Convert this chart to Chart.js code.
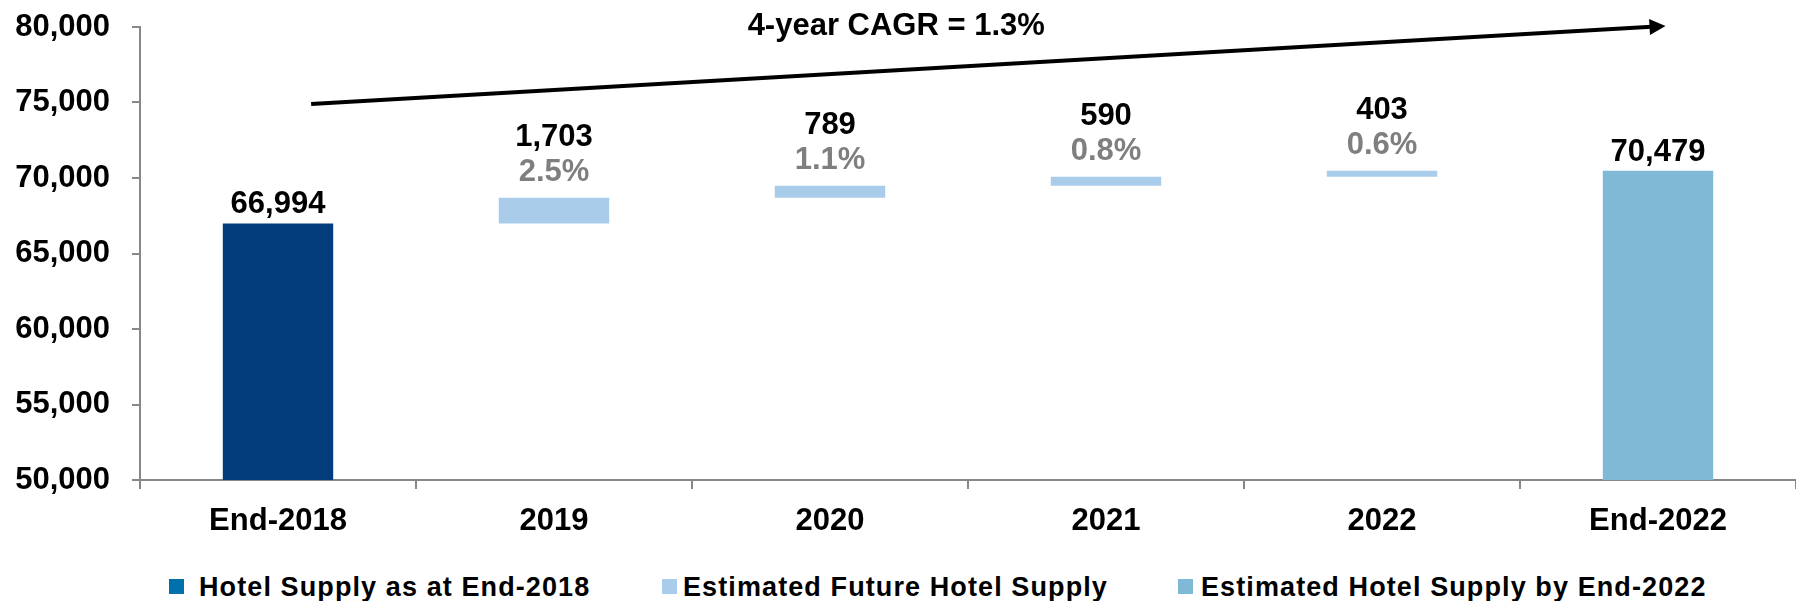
<!DOCTYPE html>
<html>
<head>
<meta charset="utf-8">
<script src="https://cdn.jsdelivr.net/npm/chart.js@4/dist/chart.umd.min.js"></script>
<style>
  body { margin: 0; background: #fff; font-family: "Liberation Sans", Arial, sans-serif; }
  #wrap { position: relative; width: 1796px; height: 601px; }
  #box { position: absolute; left: 0; top: 0; width: 1796px; height: 545px; }
  .leg { position: absolute; top: 572px; font-weight: bold; font-size: 27px; letter-spacing: 1.1px; color: #000; white-space: nowrap; line-height: 30px; }
  .leg span { position: absolute; top: 7px; width: 15px; height: 15px; }
</style>
</head>
<body>
<div id="wrap">
  <div id="box"><canvas id="grafico"></canvas></div>
  <div id="leyenda"></div>
</div>
<script>
// datos
const categorias = ["End-2018", "2019", "2020", "2021", "2022", "End-2022"];
const ofertaInicial = [66994, null, null, null, null, null];
const ofertaNueva = [null, 1703, 789, 590, 403, null];
const crecimiento = [null, "2.5%", "1.1%", "0.8%", "0.6%", null];
const ofertaFinal = [null, null, null, null, null, 70479];
const series = ["Hotel Supply as at End-2018", "Estimated Future Hotel Supply", "Estimated Hotel Supply by End-2022"];
const textoCagr = "4-year CAGR = 1.3%";

const colores = ["#023C7A", "#A9CCEB", "#80B9D6"];
const coloresLeyenda = ["#0070AC", "#A9CCEB", "#80B9D6"];

// barras flotantes acumuladas para la cascada
let acumulado = ofertaInicial[0];
const rangos = ofertaNueva.map(v => {
    if (v === null) return null;
    const r = [acumulado, acumulado + v];
    acumulado += v;
    return r;
});

const fmt = v => v.toLocaleString("en-US");
const fuente = { family: "'Liberation Sans', Arial, sans-serif", size: 31, weight: "bold" };

// etiquetas y flecha CAGR
const etiquetas = {
    id: "etiquetas",
    afterDatasetsDraw(chart) {
        const ctx = chart.ctx;
        ctx.save();
        ctx.font = "bold 31px 'Liberation Sans', Arial, sans-serif";
        ctx.textAlign = "center";
        ctx.textBaseline = "alphabetic";
        chart.data.datasets.forEach((ds, i) => {
            chart.getDatasetMeta(i).data.forEach((bar, j) => {
                const v = ds.data[j];
                if (v === null || v === undefined) return;
                const top = Math.min(bar.y, bar.base);
                if (i === 1) {
                    ctx.fillStyle = "#000";
                    ctx.fillText(fmt(ofertaNueva[j]), bar.x, top - 52);
                    ctx.fillStyle = "#7F7F7F";
                    ctx.fillText(crecimiento[j], bar.x, top - 17);
                } else {
                    ctx.fillStyle = "#000";
                    ctx.fillText(fmt(v), bar.x, top - 10);
                }
            });
        });

        const xs = chart.scales.x, ys = chart.scales.y;
        const x1 = xs.getPixelForValue(0.12), y1 = ys.getPixelForValue(74900);
        const x2 = xs.getPixelForValue(5.02), y2 = ys.getPixelForValue(80060);
        const ang = Math.atan2(y2 - y1, x2 - x1);
        ctx.strokeStyle = "#000";
        ctx.lineWidth = 4;
        ctx.beginPath();
        ctx.moveTo(x1, y1);
        ctx.lineTo(x2 - 12 * Math.cos(ang), y2 - 12 * Math.sin(ang));
        ctx.stroke();
        ctx.translate(x2, y2);
        ctx.rotate(ang);
        ctx.fillStyle = "#000";
        ctx.beginPath();
        ctx.moveTo(2, 0);
        ctx.lineTo(-14, -8);
        ctx.lineTo(-14, 8);
        ctx.closePath();
        ctx.fill();
        ctx.setTransform(1, 0, 0, 1, 0, 0);

        ctx.font = "bold 31px 'Liberation Sans', Arial, sans-serif";
        ctx.fillStyle = "#000";
        ctx.fillText(textoCagr, xs.getPixelForValue(2.24), 35);
        ctx.restore();
    }
};

function inicializarGrafico() {
    const ctx = document.getElementById("grafico").getContext("2d");
    new Chart(ctx, {
        type: "bar",
        data: {
            labels: categorias,
            datasets: [
                { label: series[0], data: ofertaInicial, backgroundColor: colores[0] },
                { label: series[1], data: rangos, backgroundColor: colores[1] },
                { label: series[2], data: ofertaFinal, backgroundColor: colores[2] }
            ]
        },
        options: {
            responsive: true,
            maintainAspectRatio: false,
            animation: false,
            layout: { padding: { left: 15, right: 0, top: 27, bottom: 0 } },
            datasets: { bar: { grouped: false, barPercentage: 0.4, categoryPercentage: 1 } },
            plugins: { legend: { display: false }, tooltip: { enabled: false } },
            scales: {
                x: {
                    grid: { drawOnChartArea: false, tickLength: 9, color: "#888", lineWidth: 2 },
                    border: { color: "#888", width: 2 },
                    ticks: { color: "#000", font: fuente, padding: 14 },
                    afterFit: s => { s.height = 65; s.paddingLeft = 0; s.paddingRight = 0; }
                },
                y: {
                    min: 50000,
                    max: 80000,
                    grid: { drawOnChartArea: false, tickLength: 8, color: "#888", lineWidth: 2 },
                    border: { color: "#888", width: 2 },
                    ticks: { stepSize: 5000, color: "#000", font: fuente, padding: 22, callback: v => fmt(v) },
                    afterFit: s => { s.width = 125; s.paddingTop = 0; s.paddingBottom = 0; }
                }
            }
        },
        plugins: [etiquetas]
    });
}

// leyenda en HTML
function crearLeyenda() {
    const cont = document.getElementById("leyenda");
    const posCaja = [169, 662, 1178];
    const posTexto = [199, 683, 1201];
    series.forEach((nombre, i) => {
        const d = document.createElement("div");
        d.className = "leg";
        d.style.left = posTexto[i] + "px";
        d.textContent = nombre;
        const c = document.createElement("span");
        c.style.left = (posCaja[i] - posTexto[i]) + "px";
        c.style.background = coloresLeyenda[i];
        d.appendChild(c);
        cont.appendChild(d);
    });
}

crearLeyenda();
inicializarGrafico();
</script>
</body>
</html>
